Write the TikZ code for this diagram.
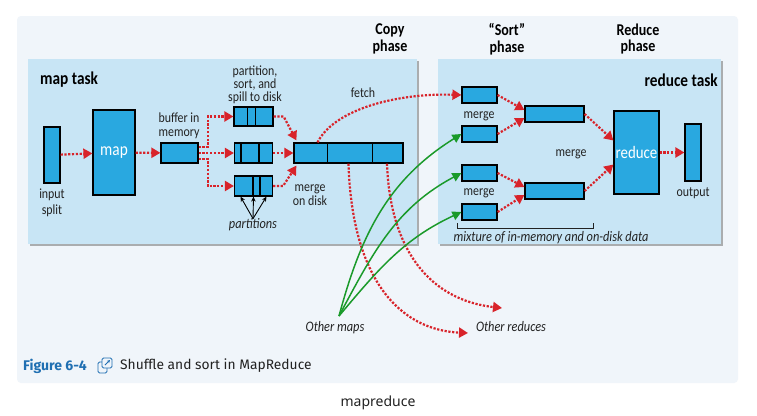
\documentclass[tikz,border=0pt]{standalone}
\usepackage{fontspec}
\setmainfont{Carlito}[FakeStretch=0.85]
\newfontfamily\capfont{Fira Sans}
\newfontfamily\pagefont{Noto Sans}
\usetikzlibrary{arrows.meta,shadows}
\definecolor{pagebg}{HTML}{F0F5FA}
\definecolor{taskbg}{HTML}{C8E5F5}
\definecolor{boxblue}{HTML}{29A8E0}
\definecolor{dotred}{HTML}{D8232A}
\definecolor{mapgreen}{HTML}{1A9A2A}
\definecolor{figblue}{HTML}{1F6FB2}
\definecolor{inktext}{HTML}{222222}
\tikzset{
  task/.style={fill=taskbg,drop shadow={shadow xshift=1.5pt,shadow yshift=-2pt,fill=black!60,opacity=.5}},
  blk/.style={draw=black,fill=boxblue,line width=1.2pt,inner sep=0pt,text=white},
  divider/.style={draw=black,line width=1.2pt},
  redarr/.style={draw=dotred,line width=2.2pt,dash pattern=on 2.2pt off 1.6pt,-{Triangle[length=9pt,width=10pt]}},
  greenarr/.style={draw=mapgreen,line width=1.5pt,-{Triangle[length=9pt,width=9pt]}},
  partarr/.style={draw=black,line width=.9pt,-{Stealth[length=5pt,width=4.5pt]}},
  lbl/.style={font=\fontsize{14}{14}\selectfont,text=inktext,align=center,inner sep=0pt},
  ilbl/.style={lbl,font=\fontsize{14.5}{14}\selectfont\itshape},
  hdr/.style={font=\fontsize{16.5}{16.5}\selectfont\bfseries,text=black,align=center,inner sep=0pt}
}
\begin{document}
\begin{tikzpicture}[x=1pt,y=-1pt]
\useasboundingbox (0,0) rectangle (757,415);
\fill[white] (0,0) rectangle (757,415);
\fill[pagebg,rounded corners=4pt] (17,16) rectangle (738,383);

% task boxes
\path[task] (28,59) rectangle (417,244);
\path[task] (438,59) rectangle (721,244);
\node[hdr,anchor=west,font=\fontsize{18}{17}\selectfont\bfseries] (maptask) at (40,80) {map task};
\node[hdr,anchor=east,font=\fontsize{18}{17}\selectfont\bfseries] (redtask) at (718,80) {reduce task};
\node[hdr] (copyph) at (390,39) {Copy\\phase};
\node[hdr] (sortph) at (507,39) {``Sort''\\phase};
\node[hdr] (reduceph) at (638,39) {Reduce\\phase};

% map side
\node[blk,minimum width=16,minimum height=56] (inp) at (52,155) {};
\node[lbl,font=\fontsize{14}{16.5}\selectfont] (inplbl) at (52,203) {input\\split};
\node[blk,minimum width=42,minimum height=85,font=\fontsize{18}{17}\selectfont] (mapn) at (114,152.5) {map};
\node[blk,minimum width=37,minimum height=20] (buf) at (179.5,153) {};
\node[lbl] (buflbl) at (179,126) {buffer in\\memory};
\node[blk,minimum width=39,minimum height=19] (sp1) at (253.5,116.5) {};
\node[blk,minimum width=38,minimum height=20] (sp2) at (253.5,153) {};
\node[blk,minimum width=38,minimum height=20] (sp3) at (253.5,186) {};
\node[lbl,font=\fontsize{14}{13}\selectfont] (spilllbl) at (255,85) {partition,\\sort, and\\spill to disk};
\draw[divider] ([xshift=14pt]sp1.north west) -- ([xshift=14pt]sp1.south west);
\draw[divider] ([xshift=22pt]sp1.north west) -- ([xshift=22pt]sp1.south west);
\draw[divider] ([xshift=7pt]sp2.north west) -- ([xshift=7pt]sp2.south west);
\draw[divider] ([xshift=25pt]sp2.north west) -- ([xshift=25pt]sp2.south west);
\draw[divider] ([xshift=19pt]sp3.north west) -- ([xshift=19pt]sp3.south west);
\draw[divider] ([xshift=26pt]sp3.north west) -- ([xshift=26pt]sp3.south west);
\node[blk,minimum width=109,minimum height=20] (mrg) at (348.5,153) {};
\draw[divider] ([xshift=34pt]mrg.north west) -- ([xshift=34pt]mrg.south west);
\draw[divider] ([xshift=79pt]mrg.north west) -- ([xshift=79pt]mrg.south west);
\node[lbl] (mrglbl) at (310,195) {merge\\on disk};
\node[lbl] (fetchlbl) at (363,93) {fetch};
\node[ilbl] (partlbl) at (253,225) {partitions};

\draw[redarr] (inp) -- (mapn);
\draw[redarr] (mapn) -- (buf);
\draw[redarr] ([yshift=6pt]buf.east) -- ++(9,0) |- (sp1.west);
\draw[redarr] (buf) -- (sp2);
\draw[redarr] ([yshift=-6pt]buf.east) -- ++(9,0) |- (sp3.west);
\draw[redarr] (sp1.east) -- ++(10,0) -- ([xshift=3pt,yshift=2pt]mrg.north west);
\draw[redarr] (sp2) -- (mrg);
\draw[redarr] (sp3.east) -- ++(10,0) -- ([xshift=3pt,yshift=-2pt]mrg.south west);
\draw[partarr] (partlbl.north) -- ([xshift=-13pt]sp3.south);
\draw[partarr] (partlbl.north) -- (sp3.south);
\draw[partarr] (partlbl.north) -- ([xshift=13pt]sp3.south);

% reduce side
\node[blk,minimum width=35,minimum height=16] (rb1) at (479.5,95) {};
\node[blk,minimum width=35,minimum height=16] (rb2) at (479.5,134) {};
\node[blk,minimum width=35,minimum height=16] (rb3) at (479.5,173) {};
\node[blk,minimum width=35,minimum height=16] (rb4) at (479.5,212) {};
\node[lbl] (mlbl1) at (479,116) {merge};
\node[lbl] (mlbl2) at (479,193) {merge};
\node[blk,minimum width=59,minimum height=16] (rm1) at (554.5,114) {};
\node[blk,minimum width=59,minimum height=16] (rm2) at (554.5,191) {};
\node[lbl] (mlbl3) at (571,154) {merge};
\node[blk,minimum width=45,minimum height=83,font=\fontsize{17.5}{17}\selectfont] (red) at (636.5,152.5) {reduce};
\node[blk,minimum width=16,minimum height=57] (outn) at (693,152.5) {};
\node[lbl] (outlbl) at (693,193) {output};
\draw[draw=inktext,line width=.8pt] (457,223) -- (457,228) -- (593,228) -- (593,223);
\node[ilbl] (mixlbl) at (551,238) {mixture of in-memory and on-disk data};

\draw[redarr] (rb1.east) -- ([yshift=4pt]rm1.west);
\draw[redarr] (rb2.east) -- ([yshift=-4pt]rm1.west);
\draw[redarr] (rb3.east) -- ([yshift=4pt]rm2.west);
\draw[redarr] (rb4.east) -- ([yshift=-4pt]rm2.west);
\draw[redarr] (rm1.east) -- ([yshift=12pt]red.west);
\draw[redarr] (rm2.east) -- ([yshift=-12pt]red.west);
\draw[redarr] (red) -- (outn);

% shuffle
\coordinate (omap) at (339,316);
\coordinate (oredA) at (468,333);
\coordinate (oredB) at (502,308);
\node[ilbl] (omaplbl) at (335,328) {Other maps};
\node[ilbl] (oredlbl) at (511,327) {Other reduces};
\draw[redarr] ([xshift=-31pt]mrg.north) .. controls (335,108) and (400,93) .. (rb1.west);
\draw[redarr] (mrg.south) .. controls (352,280) and (400,330) .. (oredA);
\draw[redarr] ([xshift=38.5pt]mrg.south) .. controls (390,250) and (430,300) .. (oredB);
\draw[greenarr] (omap) to[out=75,in=212] (rb2.west);
\draw[greenarr] (omap) to[out=62,in=208] (rb3.west);
\draw[greenarr] (omap) to[out=50,in=205] (rb4.west);

% caption
\node[anchor=west,inner sep=0pt,font=\capfont\fontsize{14}{14}\selectfont\bfseries,text=figblue] (figno) at (23,366) {Figure 6-4};
\draw[figblue,line width=.9pt,rounded corners=1.5pt] (98,362) rectangle (107,373);
\draw[figblue,line width=.9pt,rounded corners=1.5pt,fill=pagebg] (102,358) rectangle (112,368);
\draw[figblue,line width=.8pt,-{Stealth[length=3pt,width=3pt]}] (105,365) -- (110,360);
\node[anchor=west,inner sep=0pt,font=\capfont\fontsize{13.8}{14}\selectfont,text=inktext] (figcap) at (120,366) {Shuffle and sort in MapReduce};
\node[inner sep=0pt,font=\pagefont\fontsize{14}{14}\selectfont,text=inktext] (pagelbl) at (378,403) {mapreduce};
\end{tikzpicture}
\end{document}
